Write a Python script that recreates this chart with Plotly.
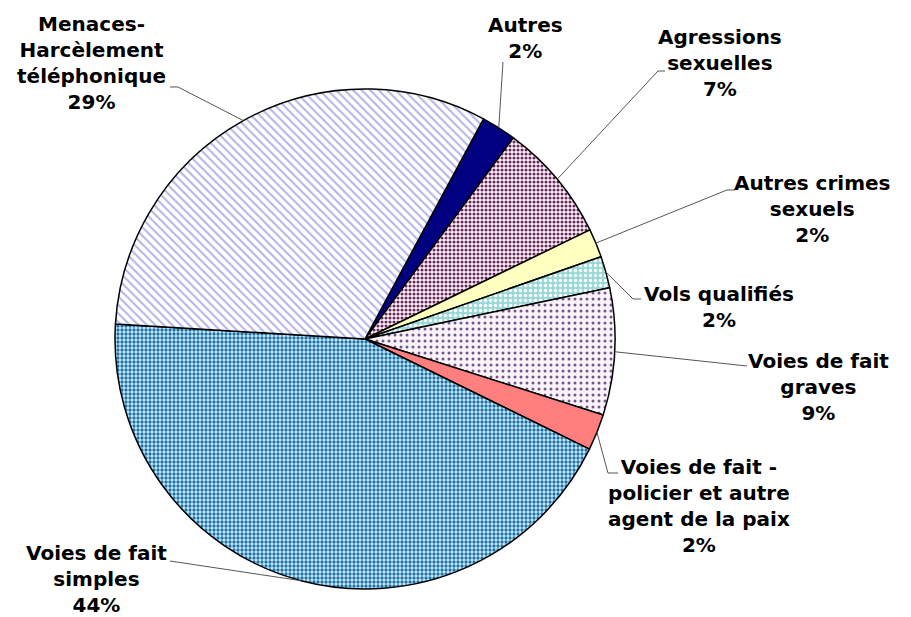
import math
import plotly.graph_objects as go

# ---- data ----
categories = [
    "Autres",
    "Agressions<br>sexuelles",
    "Autres crimes<br>sexuels",
    "Vols qualifiés",
    "Voies de fait<br>graves",
    "Voies de fait -<br>policier et autre<br>agent de la paix",
    "Voies de fait<br>simples",
    "Menaces-<br>Harcèlement<br>téléphonique",
]
values = [2.25, 7.7, 1.85, 2.05, 8.2, 2.35, 43.7, 31.9]
pct_labels = ["2%", "7%", "2%", "2%", "9%", "2%", "44%", "29%"]

# ---- styles ----
fill_bg = ["#000080", "#FFFFFF", "#FFFFC0", "#9AD8D8", "#FCF3FA", "#FF7F7F", "#D6EBF5", "#FFFFFF"]
fill_fg = ["#000080", "#74205C", "#FFFFC0", "#FFFFFF", "#6A5A8A", "#FF7F7F", "#1672AC", "#B4B4E6"]
shapes_pat = ["", ".", "", ".", ".", "", ".", "\\"]
pat_size = [8, 4, 8, 5, 6, 8, 4, 6]
pat_solid = [0.3, 0.48, 0.3, 0.35, 0.2, 0.3, 0.52, 0.35]

# page offset (browser body margin) and figure size
OFF = 8
W, H = 911 - OFF, 617 - OFF
CX, CY, R = 365, 339, 250     # in window pixels
ROT = 28.3

# label layout (window pixel positions of text centres and leader-line ends)
label_pos = [(525, 38), (720, 63), (812, 209), (719, 307), (818, 387), (699, 506), (96, 579), (91, 63)]
leader_ends = [
    [(503, 62)],
    [(658, 71), (665, 71)],
    [(727, 190), (735, 190)],
    [(633, 299), (641, 299)],
    [(747, 366)],
    [(608, 473), (618, 473)],
    [(170, 561)],
    [(178, 87), (170, 87)],
]


def px(x):
    return (x - OFF) / W


def py(y):
    return 1 - (y - OFF) / H


fig = go.Figure(
    go.Pie(
        labels=categories,
        values=values,
        sort=False,
        direction="clockwise",
        rotation=ROT,
        textinfo="none",
        hoverinfo="label+percent",
        showlegend=False,
        domain=dict(x=[px(CX - R), px(CX + R)], y=[py(CY + R), py(CY - R)]),
        marker=dict(
            colors=fill_bg,
            line=dict(color="black", width=1.5),
            pattern=dict(
                shape=shapes_pat,
                fgcolor=fill_fg,
                bgcolor=fill_bg,
                size=pat_size,
                solidity=pat_solid,
                fillmode="replace",
            ),
        ),
    )
)

total = sum(values)
cum = 0.0
shapes = []
annotations = []
for i, v in enumerate(values):
    mid = ROT + (cum + v / 2) / total * 360.0
    cum += v
    a = math.radians(mid)
    ex = CX + R * math.sin(a)
    ey = CY - R * math.cos(a)
    pts = [(ex, ey)] + leader_ends[i]
    path = "M " + " L ".join(f"{px(x):.5f},{py(y):.5f}" for x, y in pts)
    shapes.append(dict(type="path", path=path, xref="paper", yref="paper",
                       line=dict(color="#555555", width=1)))
    tx, ty = label_pos[i]
    annotations.append(dict(
        x=px(tx), y=py(ty), xref="paper", yref="paper",
        text=f"{categories[i]}<br>{pct_labels[i]}",
        showarrow=False, align="center", xanchor="center", yanchor="middle",
        font=dict(family="DejaVu Sans", size=20, color="black", weight="bold"),
    ))

fig.update_layout(
    width=W, height=H,
    margin=dict(l=0, r=0, t=0, b=0),
    paper_bgcolor="white",
    plot_bgcolor="white",
    shapes=shapes,
    annotations=annotations,
)

fig.write_html("out.html")
